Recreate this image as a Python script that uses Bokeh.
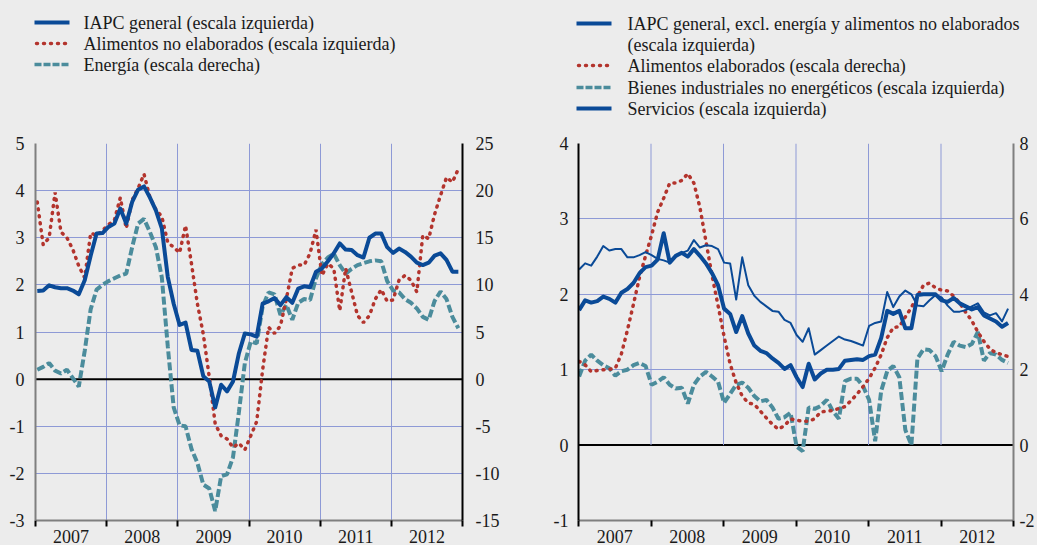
import numpy as np
from bokeh.plotting import figure
from bokeh.models import Range1d, LinearAxis, FixedTicker, CustomJSTickFormatter, Span
from bokeh.layouts import row, column
from bokeh.core.properties import value
from bokeh.embed import file_html
from bokeh.resources import INLINE

# ---------------- data ----------------
years = [2007, 2008, 2009, 2010, 2011, 2012]
year_labels = ["2007", "2008", "2009", "2010", "2011", "2012"]

# Left panel (monthly, Jan 2007 - Dec 2012)
iapc_general = [1.87, 1.88, 1.99, 1.95, 1.93, 1.93, 1.88, 1.80, 2.10, 2.62, 3.09, 3.10,
                3.23, 3.30, 3.62, 3.30, 3.76, 4.02, 4.09, 3.85, 3.58, 3.20, 2.17, 1.60,
                1.15, 1.20, 0.62, 0.60, 0.06, -0.05, -0.60, -0.12, -0.26, -0.05, 0.55, 0.97,
                0.95, 0.90, 1.60, 1.65, 1.72, 1.57, 1.74, 1.62, 1.92, 1.97, 1.95, 2.28,
                2.35, 2.50, 2.67, 2.88, 2.75, 2.74, 2.63, 2.58, 3.00, 3.09, 3.09, 2.80,
                2.68, 2.77, 2.70, 2.60, 2.47, 2.42, 2.47, 2.62, 2.67, 2.53, 2.28, 2.28]
alimentos_no_elaborados = [3.76, 2.85, 3.00, 3.96, 3.12, 3.00, 2.75, 2.40, 2.15, 3.10, 3.05, 3.15,
                           3.28, 3.37, 3.85, 3.20, 3.80, 4.05, 4.35, 3.85, 3.60, 3.45, 2.90, 2.80,
                           2.68, 3.26, 2.45, 1.60, 0.95, 0.05, -0.95, -1.20, -1.27, -1.45, -1.36, -1.50,
                           -1.20, -0.90, 0.20, 1.10, 0.97, 1.13, 1.70, 2.35, 2.42, 2.42, 2.67, 3.17,
                           2.20, 2.45, 2.35, 1.45, 2.35, 1.85, 1.35, 1.20, 1.35, 1.70, 1.90, 1.65,
                           1.68, 2.10, 2.20, 2.10, 1.85, 3.05, 2.98, 3.50, 3.90, 4.28, 4.18, 4.46]
energia = [1.0, 1.3, 1.7, 0.9, 0.6, 1.0, 0.1, -0.8, 3.0, 7.4, 9.5, 10.0,
           10.4, 10.7, 11.0, 11.2, 14.0, 16.5, 17.0, 15.6, 14.0, 10.8, 3.5, -3.0,
           -4.9, -5.0, -7.4, -8.9, -11.2, -11.6, -14.0, -10.3, -10.1, -8.3, -3.5, 1.7,
           4.0, 3.8, 7.7, 9.2, 9.0, 6.8, 7.9, 6.3, 8.1, 8.5, 8.4, 10.7,
           12.2, 12.9, 13.3, 12.1, 11.2, 11.7, 12.1, 12.3, 12.5, 12.6, 12.5, 10.4,
           9.4, 9.2, 8.5, 8.1, 7.5, 6.6, 6.3, 8.3, 9.3, 8.5, 6.6, 5.4]

# Right panel
iapc_excl = [1.79, 1.92, 1.89, 1.91, 1.97, 1.94, 1.89, 2.02, 2.07, 2.15, 2.28, 2.36,
             2.38, 2.46, 2.81, 2.42, 2.51, 2.55, 2.50, 2.60, 2.51, 2.41, 2.28, 2.12,
             1.81, 1.74, 1.50, 1.71, 1.48, 1.32, 1.25, 1.22, 1.15, 1.09, 1.01, 1.06,
             0.90, 0.77, 1.08, 0.87, 0.95, 1.00, 1.00, 1.01, 1.12, 1.13, 1.14, 1.13,
             1.18, 1.20, 1.42, 1.78, 1.74, 1.78, 1.55, 1.55, 1.99, 2.00, 2.00, 2.00,
             1.92, 1.90, 1.95, 1.88, 1.84, 1.80, 1.83, 1.72, 1.68, 1.64, 1.57, 1.62]
alimentos_elaborados = [2.22, 2.13, 1.95, 1.98, 2.00, 2.01, 2.04, 2.42, 3.05, 3.74, 4.45, 5.02,
                        5.57, 6.18, 6.55, 6.95, 6.95, 7.02, 7.20, 6.95, 6.30, 5.40, 4.50, 3.70,
                        2.88, 2.15, 1.65, 1.30, 1.12, 1.08, 0.90, 0.72, 0.55, 0.42, 0.52, 0.69,
                        0.66, 0.63, 0.63, 0.70, 0.88, 0.90, 0.92, 0.97, 1.02, 1.18, 1.35, 1.55,
                        1.77, 2.05, 2.40, 2.85, 3.12, 3.14, 3.40, 3.65, 3.95, 4.24, 4.30, 4.17,
                        4.11, 4.09, 3.95, 3.77, 3.52, 3.30, 3.00, 2.75, 2.55, 2.45, 2.40, 2.35]
bienes_industriales = [0.91, 1.12, 1.20, 1.12, 1.06, 1.02, 0.92, 0.98, 1.00, 1.06, 1.09, 1.05,
                       0.80, 0.84, 0.90, 0.80, 0.75, 0.76, 0.55, 0.80, 0.91, 0.97, 0.91, 0.84,
                       0.56, 0.68, 0.80, 0.83, 0.76, 0.65, 0.58, 0.60, 0.50, 0.35, 0.37, 0.43,
                       -0.02, -0.08, 0.50, 0.48, 0.52, 0.60, 0.45, 0.35, 0.85, 0.88, 0.88, 0.78,
                       0.60, 0.05, 0.72, 0.98, 1.05, 0.90, 0.20, 0.00, 1.15, 1.27, 1.26, 1.18,
                       0.98, 1.20, 1.37, 1.32, 1.30, 1.34, 1.50, 1.12, 1.22, 1.20, 1.13, 1.09]
servicios = [2.33, 2.41, 2.38, 2.50, 2.64, 2.58, 2.60, 2.60, 2.49, 2.49, 2.52, 2.56,
             2.52, 2.47, 2.45, 2.42, 2.52, 2.55, 2.58, 2.72, 2.62, 2.65, 2.64, 2.60,
             2.42, 2.41, 1.93, 2.49, 2.12, 1.98, 1.90, 1.84, 1.78, 1.77, 1.66, 1.62,
             1.46, 1.37, 1.55, 1.20, 1.26, 1.32, 1.38, 1.44, 1.40, 1.38, 1.35, 1.32,
             1.58, 1.62, 1.64, 2.03, 1.83, 1.97, 2.05, 2.00, 1.85, 1.84, 1.92, 1.99,
             1.96, 1.85, 1.77, 1.77, 1.79, 1.84, 1.88, 1.76, 1.72, 1.75, 1.64, 1.81]

left_ticks = [-3, -2, -1, 0, 1, 2, 3, 4, 5]
left_right_ticks = [-15, -10, -5, 0, 5, 10, 15, 20, 25]
right_ticks = [-1, 0, 1, 2, 3, 4]
right_right_ticks = [-2, 0, 2, 4, 6, 8]

legend_left = ["IAPC general (escala izquierda)",
               "Alimentos no elaborados (escala izquierda)",
               "Energía (escala derecha)"]
legend_right = ["IAPC general, excl. energía y alimentos no elaborados",
                "(escala izquierda)",
                "Alimentos elaborados (escala derecha)",
                "Bienes industriales no energéticos (escala izquierda)",
                "Servicios (escala izquierda)"]

# ---------------- style ----------------
BG = "#ECECEC"
GRID = "#8E9AD6"
BLUE = "#0A4A97"
RED = "#B3342D"
TEAL = "#4B8C9C"
FONT = "Liberation Serif"
TXT = "#1A1A1A"

HL = 133
HP = 412
WL, WR = 520, 517

months = np.arange(72)
xL = 2007 + (months + 0.3) / 12.0
xR = 2007 + (months + 0.1) / 12.0


def style_yaxis(ax, ticks, line_color, standoff):
    ax.ticker = FixedTicker(ticks=ticks)
    ax.formatter = CustomJSTickFormatter(code="return String(Math.round(tick));")
    ax.major_tick_in = 0
    ax.major_tick_out = 0
    ax.minor_tick_in = 0
    ax.minor_tick_out = 0
    ax.major_tick_line_color = None
    ax.minor_tick_line_color = None
    ax.axis_line_color = line_color
    ax.axis_line_width = 2
    ax.major_label_text_font = FONT
    ax.major_label_text_font_size = "18px"
    ax.major_label_text_color = TXT
    ax.major_label_standoff = standoff


def style_xaxis(ax):
    ax.ticker = FixedTicker(ticks=[y + 0.5 for y in years],
                            minor_ticks=years + [years[-1] + 1])
    ax.formatter = CustomJSTickFormatter(args=dict(labels=year_labels, start=years[0]),
                                         code="return labels[Math.floor(tick) - start];")
    ax.major_tick_in = 0
    ax.major_tick_out = 0
    ax.major_tick_line_color = None
    ax.minor_tick_in = 0
    ax.minor_tick_out = 6
    ax.minor_tick_line_color = "black"
    ax.minor_tick_line_width = 2
    ax.axis_line_color = "#7F7F7F"
    ax.axis_line_width = 2
    ax.major_label_text_font = FONT
    ax.major_label_text_font_size = "18px"
    ax.major_label_text_color = TXT
    ax.major_label_standoff = 3


def make_panel(width, bl, br, yl, yr, lt, rt, lcol, rcol, lstand, rstand):
    p = figure(width=width, height=HP, x_range=Range1d(2007, 2013), y_range=Range1d(*yl),
               output_backend="svg", toolbar_location=None,
               min_border_left=bl, min_border_right=br, min_border_top=10, min_border_bottom=24,
               background_fill_color=BG, border_fill_color=BG, outline_line_color=None)
    p.border_fill_color = BG
    p.background_fill_color = BG
    p.extra_y_ranges = {"r": Range1d(*yr)}
    ax_r = LinearAxis(y_range_name="r")
    p.add_layout(ax_r, "right")
    style_yaxis(p.yaxis[0], lt, lcol, lstand)
    style_yaxis(ax_r, rt, rcol, rstand)
    style_xaxis(p.xaxis[0])
    p.ygrid[0].ticker = FixedTicker(ticks=lt)
    p.ygrid[0].grid_line_color = GRID
    p.ygrid[0].grid_line_width = 1
    p.xgrid[0].ticker = FixedTicker(ticks=years[1:])
    p.xgrid[0].grid_line_color = GRID
    p.xgrid[0].grid_line_width = 1
    return p


# ---------------- left panel ----------------
pL = make_panel(WL, 35, 58, (-3, 5), (-15, 25), left_ticks, left_right_ticks,
                "#7F7F7F", "black", 11, 13)
pL.add_layout(Span(location=0, dimension="width", line_color="black", line_width=2, level="underlay"))
pL.line(xL, energia, y_range_name="r", line_color=TEAL, line_width=4, line_dash="8 3")
pL.line(xL, alimentos_no_elaborados, line_color=RED, line_width=3.5, line_dash="1 6", line_cap="round")
pL.line(xL, iapc_general, line_color=BLUE, line_width=4, line_join="round")

# ---------------- right panel ----------------
pR = make_panel(WR, 58, 20, (-1, 4), (-2, 8), right_ticks, right_right_ticks,
                "black", "#7F7F7F", 10, 6)
pR.xgrid[0].visible = False
gy = years[1:]
pR.segment(x0=gy, y0=[0] * len(gy), x1=gy, y1=[right_ticks[-1]] * len(gy),
           line_color=GRID, line_width=1)
pR.add_layout(Span(location=0, dimension="width", line_color="black", line_width=2, level="underlay"))
pR.line(xR, bienes_industriales, line_color=TEAL, line_width=4, line_dash="8 3")
pR.line(xR, alimentos_elaborados, y_range_name="r", line_color=RED, line_width=3.5,
        line_dash="1 6", line_cap="round")
pR.line(xR, servicios, line_color=BLUE, line_width=2, line_join="round")
pR.line(xR, iapc_excl, line_color=BLUE, line_width=4, line_join="round")


# ---------------- legends ----------------
def legend_fig(width):
    f = figure(width=width, height=HL, x_range=Range1d(0, width), y_range=Range1d(HL, 0),
               x_axis_type=None, y_axis_type=None, output_backend="svg", toolbar_location=None,
               min_border=0, background_fill_color=BG, border_fill_color=BG,
               outline_line_color=None)
    return f


def sample(f, x0, x1, y, kind):
    if kind == "solid":
        f.line([x0, x1], [y, y], line_color=BLUE, line_width=4)
    elif kind == "dot":
        f.line([x0 + 2, x1], [y, y], line_color=RED, line_width=3.5, line_dash="1 6", line_cap="round")
    elif kind == "dash":
        f.line([x0, x1], [y, y], line_color=TEAL, line_width=3.5, line_dash="7 2")


def label(f, x, y, t):
    f.text(x=[x], y=[y], text=[t], text_font=value(FONT), text_font_size=value("18px"),
           text_color=TXT, text_baseline="middle", text_align="left")


lgL = legend_fig(WL)
rowsL = [22, 43, 64]
for y, kind, t in zip(rowsL, ["solid", "dot", "dash"], legend_left):
    sample(lgL, 34, 69, y, kind)
    label(lgL, 83, y, t)

lgR = legend_fig(WR)
rowsR = [23, 44, 65, 87, 108]
kindsR = ["solid", None, "dot", "dash", "solid"]
for y, kind, t in zip(rowsR, kindsR, legend_right):
    if kind:
        sample(lgR, 56, 91, y, kind)
    label(lgR, 107, y, t)

layout = column(row(lgL, lgR), row(pL, pR))

html = file_html(layout, INLINE, title="IAPC")
html = html.replace("</head>", "<style>html, body { background-color: #ECECEC; }</style></head>", 1)
open("out.html", "w").write(html)
